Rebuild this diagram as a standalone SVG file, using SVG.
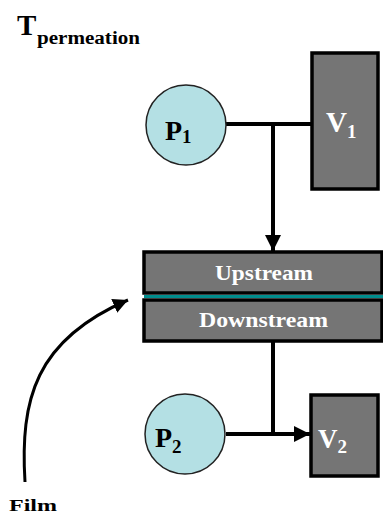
<svg xmlns="http://www.w3.org/2000/svg" width="383" height="514" viewBox="0 0 383 514">
<style>
.box{fill:#757575;stroke:#000;stroke-width:3.5}
.circ{fill:#b4e0e4;stroke:#222;stroke-width:1.5}
.ln{stroke:#000;stroke-width:4;fill:none}
.lbl{font-family:"Liberation Serif",serif;font-weight:bold}
.wt{fill:#fff}
</style>
<defs>
<marker id="ah" markerWidth="4" markerHeight="4" refX="4" refY="2" orient="auto" markerUnits="strokeWidth">
<path d="M0,0 L4,2 L0,4 Z" fill="#000"/>
</marker>
<marker id="ah2" markerWidth="5" markerHeight="5" refX="5" refY="2.5" orient="auto" markerUnits="strokeWidth">
<path d="M0,0 L5,2.5 L0,5 Z" fill="#000"/>
</marker>
</defs>
<rect width="383" height="514" fill="#fff"/>
<g id="title">
<text x="17" y="35" class="lbl" font-size="29">T</text>
<text x="37" y="44" class="lbl" font-size="18" textLength="103" lengthAdjust="spacingAndGlyphs">permeation</text>
</g>
<g id="connectors">
<path class="ln" d="M226,124 H311"/>
<path class="ln" d="M273,124 V251" marker-end="url(#ah)"/>
<path class="ln" d="M273,341 V434"/>
<path class="ln" d="M226,434 H310" marker-end="url(#ah)"/>
<path d="M25,482 C20,400 35,340 128,300" stroke="#000" stroke-width="3" fill="none" marker-end="url(#ah2)"/>
</g>
<g id="P1">
<circle class="circ" cx="186" cy="125" r="40"/>
<text x="165" y="140" class="lbl" font-size="28">P<tspan font-size="19" dy="3">1</tspan></text>
</g>
<g id="V1">
<rect class="box" x="312" y="53" width="66" height="136"/>
<text x="326" y="132" class="lbl wt" font-size="29">V<tspan font-size="19" dy="6">1</tspan></text>
</g>
<g id="upstream">
<rect class="box" x="144" y="252" width="238" height="41"/>
<text x="215" y="280" class="lbl wt" font-size="21" textLength="98" lengthAdjust="spacingAndGlyphs">Upstream</text>
</g>
<g id="film-line">
<line x1="144" y1="296.5" x2="383" y2="296.5" stroke="#008c8c" stroke-width="3"/>
</g>
<g id="downstream">
<rect class="box" x="144" y="300" width="238" height="41"/>
<text x="199" y="327" class="lbl wt" font-size="21" textLength="129" lengthAdjust="spacingAndGlyphs">Downstream</text>
</g>
<g id="P2">
<circle class="circ" cx="185" cy="434" r="40"/>
<text x="155" y="447" class="lbl" font-size="28">P<tspan font-size="19" dy="6">2</tspan></text>
</g>
<g id="V2">
<rect class="box" x="311" y="395" width="67" height="81"/>
<text x="318" y="448" class="lbl wt" font-size="27">V<tspan font-size="19" dy="5">2</tspan></text>
</g>
<g id="film">
<text x="9" y="511" class="lbl" font-size="17" textLength="48" lengthAdjust="spacingAndGlyphs">Film</text>
</g>
</svg>
